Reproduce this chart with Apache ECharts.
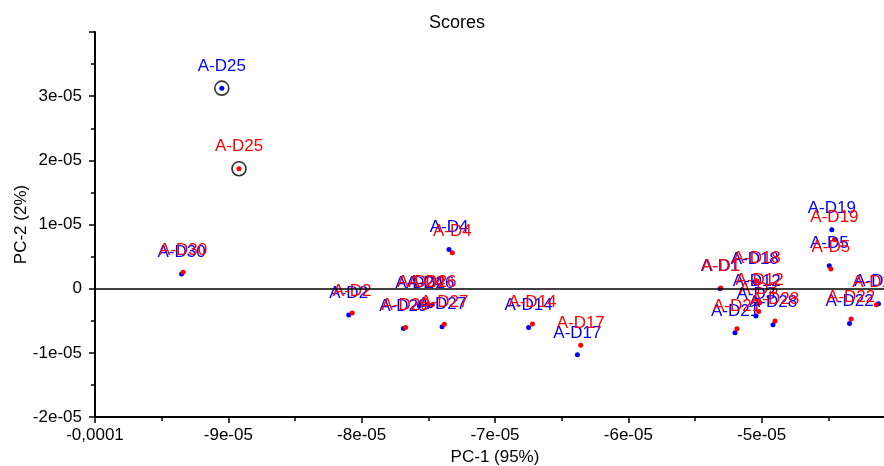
<!DOCTYPE html>
<html lang="en">
  <head>
    <meta charset="UTF-8" />
    <title>Scores</title>
    <style>
      body {
        margin: 0;
        background-color: #ffffff;
      }
      #chart {
        width: 884px;
        height: 466px;
      }
    </style>
  </head>
  <body>
    <div id="chart"></div>
    <script src="https://cdn.jsdelivr.net/npm/echarts@6/dist/echarts.min.js"></script>
    <script>
      // sample names, one blue and one red point per sample
      const names = [
        "A-D25", "A-D30", "A-D2", "A-D29", "A-D24", "A-D26", "A-D27", "A-D4", "A-D14", "A-D17",
        "A-D1", "A-D21", "A-D18", "A-D12", "A-D3", "A-D28", "A-D19", "A-D5", "A-D22", "A-D10",
      ];
      const blueX = [
        -9.049e-5, -9.351e-5, -8.097e-5, -7.687e-5, -7.567e-5, -7.485e-5, -7.397e-5, -7.345e-5, -6.748e-5, -6.382e-5,
        -5.312e-5, -5.2e-5, -5.052e-5, -5.037e-5, -5.043e-5, -4.915e-5, -4.474e-5, -4.493e-5, -4.341e-5, -4.124e-5,
      ];
      const blueY = [
        3.125e-5, 2.3e-6, -4.11e-6, -6.2e-6, -2.66e-6, -2.66e-6, -5.94e-6, 6.09e-6, -6.05e-6, -1.031e-5,
        0, -6.88e-6, 1.09e-6, -2.34e-6, -4.27e-6, -5.63e-6, 9.17e-6, 3.59e-6, -5.42e-6, -2.34e-6,
      ];
      const redX = [
        -8.92e-5, -9.339e-5, -8.071e-5, -7.67e-5, -7.552e-5, -7.47e-5, -7.38e-5, -7.32e-5, -6.719e-5, -6.357e-5,
        -5.306e-5, -5.185e-5, -5.037e-5, -5.015e-5, -5.022e-5, -4.9e-5, -4.454e-5, -4.481e-5, -4.329e-5, -4.139e-5,
      ];
      const redY = [
        1.87e-5, 2.55e-6, -3.8e-6, -6.05e-6, -2.5e-6, -2.5e-6, -5.55e-6, 5.58e-6, -5.52e-6, -8.8e-6,
        1e-7, -6.25e-6, 1.25e-6, -2.19e-6, -3.55e-6, -5.05e-6, 7.66e-6, 3.08e-6, -4.73e-6, -2.5e-6,
      ];
      const circled = ["A-D25"];

      const font = "Liberation Sans, Arial, sans-serif";

      function tickFmt(v) {
        if (Math.abs(v) < 1e-12) return "0";
        if (Math.abs(Math.abs(v) - 1e-4) < 1e-12) return (v < 0 ? "-" : "") + "0,0001";
        const e = Math.floor(Math.log10(Math.abs(v)) + 1e-9);
        const m = Math.round(v / Math.pow(10, e));
        return m + "e-0" + -e;
      }

      function points(xs, ys) {
        return names.map((n, i) => [xs[i], ys[i], n]);
      }

      const rings = [];
      names.forEach((n, i) => {
        if (circled.includes(n)) {
          rings.push([blueX[i], blueY[i]]);
          rings.push([redX[i], redY[i]]);
        }
      });

      const axisCommon = {
        type: "value",
        interval: 1e-5,
        axisLine: { show: true, onZero: false, lineStyle: { color: "#000", width: 2 } },
        axisTick: { show: true, inside: false, length: 6, lineStyle: { color: "#000", width: 1.5 } },
        minorTick: { show: true, splitNumber: 2, length: 4, lineStyle: { color: "#000", width: 1.5 } },
        splitLine: { show: false },
        nameLocation: "middle",
        nameMoveOverlap: false,
        nameTextStyle: { color: "#000", fontSize: 17, fontFamily: font },
      };

      function scatter(data, color) {
        return {
          type: "scatter",
          data: data,
          symbolSize: 5,
          itemStyle: { color: color, opacity: 1 },
          label: {
            show: true,
            position: "top",
            distance: 11,
            color: color,
            fontSize: 17,
            fontFamily: font,
            formatter: (p) => p.data[2],
          },
          emphasis: { disabled: true },
          animation: false,
        };
      }

      const chart = echarts.init(document.getElementById("chart"));
      chart.setOption({
        backgroundColor: "#fff",
        animation: false,
        title: {
          text: "Scores",
          left: 424,
          top: 9,
          textStyle: { color: "#000", fontSize: 18, fontWeight: "normal", fontFamily: font },
        },
        grid: { left: 95, top: 32, width: 800, bottom: 49, outerBoundsMode: "none", containLabel: false },
        xAxis: Object.assign({}, axisCommon, {
          min: -1e-4,
          max: -4e-5,
          name: "PC-1 (95%)",
          nameGap: 32,
          axisLabel: {
            color: "#000",
            fontSize: 17,
            fontFamily: font,
            margin: 10,
            showMaxLabel: false,
            formatter: tickFmt,
          },
        }),
        yAxis: Object.assign({}, axisCommon, {
          min: -2e-5,
          max: 4e-5,
          name: "PC-2 (2%)",
          nameGap: 65,
          axisLabel: {
            color: "#000",
            fontSize: 17,
            fontFamily: font,
            margin: 13,
            showMaxLabel: false,
            formatter: tickFmt,
          },
        }),
        series: [
          {
            type: "scatter",
            data: rings,
            symbol: "circle",
            symbolSize: 14,
            itemStyle: { color: "rgba(0,0,0,0)", borderColor: "#000", borderWidth: 1.6 },
            emphasis: { disabled: true },
            markLine: {
              silent: true,
              symbol: "none",
              label: { show: false },
              lineStyle: { color: "#000", width: 1.5, type: "solid" },
              data: [{ yAxis: 0 }],
            },
            z: 1,
          },
          scatter(points(blueX, blueY), "#0000ff"),
          scatter(points(redX, redY), "#ff0000"),
        ],
      });
    </script>
  </body>
</html>
